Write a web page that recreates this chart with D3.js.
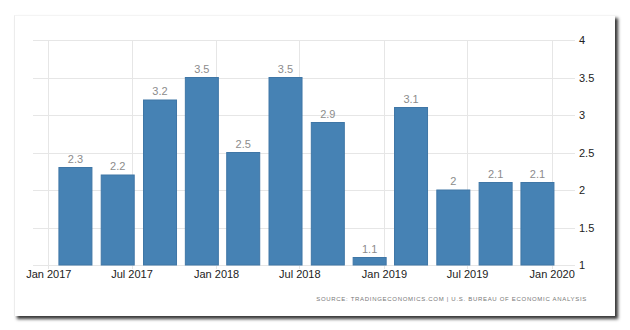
<!DOCTYPE html>
<html>
<head>
<meta charset="utf-8">
<script src="https://cdn.jsdelivr.net/npm/d3@7"></script>
<style>
  html, body { margin: 0; padding: 0; background: #fff; }
  body { width: 630px; height: 330px; position: relative; overflow: hidden; }
  #card {
    position: absolute; left: 14px; top: 15px; width: 600px; height: 300px;
    background: #fff;
    border-left: 1px solid #ececec; border-top: 1px solid #f4f4f4;
    box-shadow: 3px 3px 3px rgba(20,20,20,0.85);
  }
  svg { position: absolute; left: 0; top: 0; }
</style>
</head>
<body>
<div id="card"></div>
<svg id="chart" width="630" height="330"></svg>
<script>
// Quarterly GDP growth rate (annualized, %), placed at the last month of each quarter
const quarters = ["2017-03", "2017-06", "2017-09", "2017-12",
                  "2018-03", "2018-06", "2018-09", "2018-12",
                  "2019-03", "2019-06", "2019-09", "2019-12"];
const growth = [2.3, 2.2, 3.2, 3.5, 2.5, 3.5, 2.9, 1.1, 3.1, 2.0, 2.1, 2.1];
const yTicks = [1, 1.5, 2, 2.5, 3, 3.5, 4];
const xTickDates = ["2017-01", "2017-07", "2018-01", "2018-07", "2019-01", "2019-07", "2020-01"];
const sourceText = "SOURCE: TRADINGECONOMICS.COM | U.S. BUREAU OF ECONOMIC ANALYSIS";

const parseMonth = d3.timeParse("%Y-%m");
const fmtTick = d3.timeFormat("%b %Y");

const svg = d3.select("#chart");
const font = "'Liberation Sans', Arial, sans-serif";

const plot = { left: 33, right: 575, top: 40, bottom: 265 };

const x = d3.scaleTime()
  .domain([parseMonth("2017-01"), parseMonth("2020-01")])
  .range([48.3, 551.7]);
const y = d3.scaleLinear().domain([1, 4]).range([plot.bottom, plot.top]);

const barW = 33;

// Horizontal grid lines
svg.append("g").selectAll("line").data(yTicks).join("line")
  .attr("x1", plot.left).attr("x2", plot.right)
  .attr("y1", d => Math.round(y(d)) + 0.5).attr("y2", d => Math.round(y(d)) + 0.5)
  .attr("stroke", "#e6e6e6").attr("stroke-width", 1);

// Vertical grid lines at axis ticks
svg.append("g").selectAll("line").data(xTickDates.map(parseMonth)).join("line")
  .attr("x1", d => Math.round(x(d)) + 0.5).attr("x2", d => Math.round(x(d)) + 0.5)
  .attr("y1", plot.top).attr("y2", plot.bottom + 4)
  .attr("stroke", "#e6e6e6").attr("stroke-width", 1);

// Bars
const data = quarters.map((q, i) => ({ date: parseMonth(q), value: growth[i] }));
svg.append("g").selectAll("rect").data(data).join("rect")
  .attr("x", d => x(d.date) - barW / 2)
  .attr("width", barW)
  .attr("y", d => y(d.value))
  .attr("height", d => y(1) - y(d.value))
  .attr("fill", "#4682b4")
  .attr("stroke", "#3f76a6").attr("stroke-width", 1);

// Value labels above bars
svg.append("g").selectAll("text").data(data).join("text")
  .attr("x", d => x(d.date))
  .attr("y", d => y(d.value) - 5)
  .attr("text-anchor", "middle")
  .attr("font-family", font).attr("font-size", 11)
  .attr("fill", "#8c8c8c")
  .text(d => d3.format("")(d.value));

// Right value axis
const yAxis = d3.axisRight(y).tickValues(yTicks).tickSize(0).tickPadding(4)
  .tickFormat(d3.format(""));
const gy = svg.append("g").attr("transform", `translate(${plot.right},0)`).call(yAxis);
gy.select(".domain").remove();
gy.selectAll("text").attr("font-family", font).attr("font-size", 11).attr("fill", "#222");

// Bottom time axis
const xAxis = d3.axisBottom(x).tickValues(xTickDates.map(parseMonth)).tickSize(0).tickPadding(5)
  .tickFormat(fmtTick);
const gx = svg.append("g").attr("transform", `translate(0,${plot.bottom})`).call(xAxis);
gx.select(".domain").remove();
gx.selectAll("text").attr("font-family", font).attr("font-size", 11).attr("fill", "#222");

// Source note
svg.append("text")
  .attr("x", 587).attr("y", 301)
  .attr("text-anchor", "end")
  .attr("font-family", font).attr("font-size", 6)
  .attr("letter-spacing", 0.7)
  .attr("fill", "#777")
  .text(sourceText);
</script>
</body>
</html>
